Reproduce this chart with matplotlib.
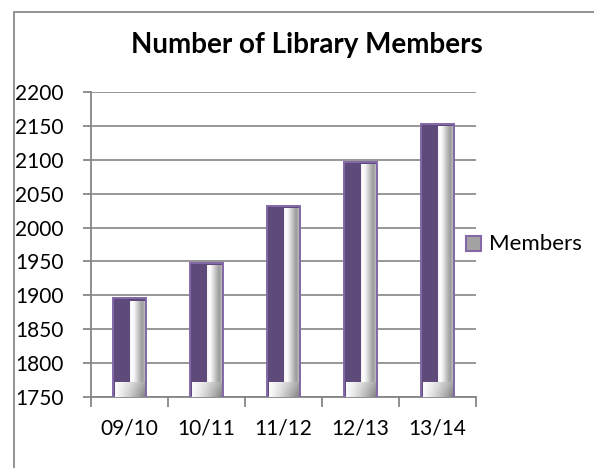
import numpy as np
import matplotlib
matplotlib.use("Agg")
import matplotlib.pyplot as plt
from matplotlib.colors import LinearSegmentedColormap
from matplotlib.patches import Rectangle

# ---- data ----
categories = ["09/10", "10/11", "11/12", "12/13", "13/14"]
members = [1896, 1948, 2032, 2097, 2153]
y_ticks = [1750, 1800, 1850, 1900, 1950, 2000, 2050, 2100, 2150, 2200]
title = "Number of Library Members"
series_name = "Members"

plt.rcParams['font.family'] = ['Lato', 'DejaVu Sans']

W, H = 594, 468
fig = plt.figure(figsize=(W / 100, H / 100), dpi=100)
fig.patch.set_facecolor('white')

# outer chart frame (clipped by image edges)
fig.add_artist(Rectangle((14 / W, -0.2), 1.2, 1 - 12 / H + 0.2, transform=fig.transFigure,
                         fill=False, edgecolor='#8a8a8a', lw=1.3))

ax = fig.add_axes([91 / W, 1 - 397 / H, (476 - 91) / W, (397 - 92) / H])
ymin, ymax = y_ticks[0], y_ticks[-1]
x = np.arange(len(categories))
bw = 0.43

purple = '#5f4a7c'
border = '#8468a8'
ax.bar(x, np.array(members) - ymin, bottom=ymin, width=bw, color=purple,
       edgecolor=border, linewidth=1.4, zorder=3)

# cylinder-like highlight
cmap = LinearSegmentedColormap.from_list(
    'cyl', ['#f2f2f2', '#ffffff', '#ececec', '#cfcfcf', '#b3b3b3', '#9a9a9a', '#bdbdbd'])
grad = np.linspace(0, 1, 64).reshape(1, -1)
for xi, v in zip(x, members):
    l = xi - bw / 2
    ax.imshow(grad, extent=[l + 0.50 * bw, l + 0.94 * bw, ymin, v - 4.5],
              cmap=cmap, aspect='auto', zorder=4, interpolation='bilinear')
    # base section
    gx = np.linspace(0, 1, 64)
    gy = np.linspace(0, 1, 16).reshape(-1, 1)
    base = 0.98 - 0.32 * gx ** 1.5 - 0.15 * (1 - gy) * gx
    base = np.clip(base, 0.5, 1)
    ax.imshow(base, extent=[l + 0.06 * bw, l + 0.94 * bw, ymin, ymin + 21],
              cmap='gray', vmin=0, vmax=1, aspect='auto', zorder=4,
              interpolation='bilinear', origin='lower')

ax.set_xlim(-0.5, len(categories) - 0.5)
ax.set_ylim(ymin, ymax)
ax.set_yticks(y_ticks)
ax.set_yticklabels([str(t) for t in y_ticks])
ax.set_xticks(np.arange(len(categories) + 1) - 0.5, minor=False)
ax.set_xticklabels([])
ax.set_xticks(x, minor=True)
ax.set_xticklabels(categories, minor=True)

ax.yaxis.grid(True, color='#8f8f8f', linewidth=1.3, zorder=0)
ax.set_axisbelow(True)
for s in ['top', 'right']:
    ax.spines[s].set_visible(False)
for s in ['left', 'bottom']:
    ax.spines[s].set_color('#868686')
    ax.spines[s].set_linewidth(1.3)

ax.tick_params(axis='y', which='major', length=6, width=1.3, color='#868686',
               labelsize=15, pad=13.5, labelcolor='black')
ax.tick_params(axis='x', which='major', length=7, width=1.3, color='#868686')
ax.tick_params(axis='x', which='minor', length=0, labelsize=15, pad=15.5, labelcolor='black')

fig.text(307 / W, 1 - 45 / H, title, ha='center', va='center',
         fontsize=20, fontweight='bold')

# legend
fig.add_artist(Rectangle((466 / W, 1 - 251 / H), 15 / W, 15 / H, transform=fig.transFigure,
                         facecolor='#a3a3a3', edgecolor=border, lw=1.5))
fig.text(489 / W, 1 - 244 / H, series_name, ha='left', va='center', fontsize=16)

fig.savefig('out.png', dpi=100)
